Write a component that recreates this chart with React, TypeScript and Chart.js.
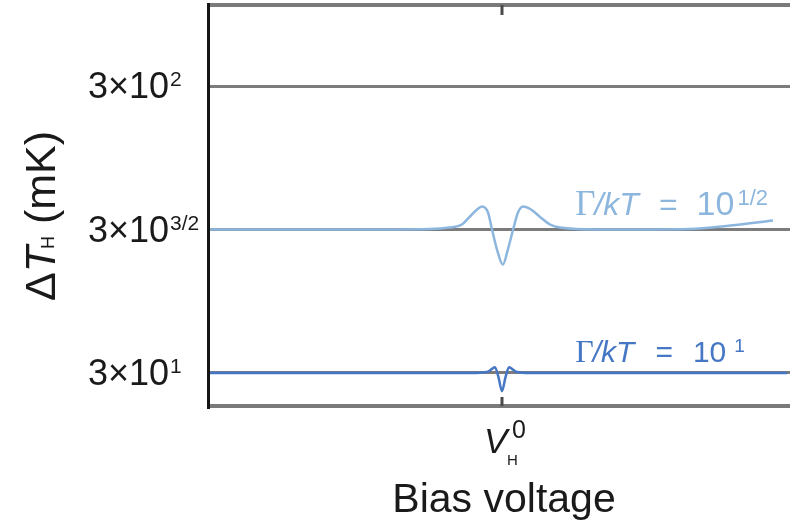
import React, { useEffect, useRef } from "react";
import { Chart, registerables } from "chart.js";

Chart.register(...registerables);

// Axis ranges
const xMin = -1;
const xMax = 0.983;
const yMin = 23.0;
const yMax = 576;

// Tick labels
const yTickValues = [30, 94.87, 300];
const yTickBase = ["3×10", "3×10", "3×10"];
const yTickExp = ["1", "3/2", "2"];
const xTickValues = [0];

// Γ/kT = 10^{1/2} (light blue)
const lightX = [-1.0, -0.52, -0.25, -0.18, -0.137, -0.113, -0.085, -0.068, -0.048, -0.034, -0.017, 0.003, 0.020, 0.038, 0.055, 0.072, 0.099, 0.13, 0.164, 0.198, 0.33, 0.64, 0.78, 0.925];
const lightY = [94.87, 94.87, 95.3, 96.4, 98.8, 104.5, 111.5, 114.2, 109, 94.9, 80.8, 71.6, 80.8, 94.9, 109, 114.2, 111.5, 105, 98.8, 96.4, 94.87, 95.3, 98.0, 102.0];

// Γ/kT = 10^1 (dark blue)
const darkX = [-1.0, -0.109, -0.048, -0.034, -0.024, -0.012, 0.0, 0.012, 0.024, 0.034, 0.048, 0.096, 0.973];
const darkY = [30, 30, 30.3, 31.0, 31.4, 29.0, 25.9, 29.0, 31.4, 31.0, 30.3, 30, 30];

const lightColor = "#8db6de";
const darkColor = "#4677c4";
const gridColor = "#7c7c7c";

type Run = { t: string; font: string; dx?: number; dy?: number };

function runsWidth(ctx: CanvasRenderingContext2D, runs: Run[]) {
  let w = 0;
  for (const r of runs) {
    ctx.font = r.font;
    w += (r.dx || 0) + ctx.measureText(r.t).width;
  }
  return w;
}

function drawRuns(ctx: CanvasRenderingContext2D, x: number, y: number, runs: Run[]) {
  let cx = x;
  for (const r of runs) {
    cx += r.dx || 0;
    ctx.font = r.font;
    ctx.fillText(r.t, cx, y + (r.dy || 0));
    cx += ctx.measureText(r.t).width;
  }
  return cx;
}

const SANS = '"Liberation Sans", Arial, sans-serif';
const SERIF = '"Liberation Serif", "Times New Roman", serif';

const overlayPlugin = {
  id: "overlay",
  afterDatasetsDraw(chart: any) {
    const ctx: CanvasRenderingContext2D = chart.ctx;
    const { left, right, top, bottom } = chart.chartArea;
    const xs = chart.scales.x;
    ctx.save();
    // top and bottom frame
    ctx.strokeStyle = "#7a7a7a";
    ctx.lineWidth = 4;
    ctx.beginPath();
    ctx.moveTo(left, top);
    ctx.lineTo(right, top);
    ctx.moveTo(left, bottom);
    ctx.lineTo(right, bottom);
    ctx.stroke();
    // x ticks
    ctx.strokeStyle = "#4a4a4a";
    ctx.lineWidth = 3;
    for (const v of xTickValues) {
      const px = xs.getPixelForValue(v);
      ctx.beginPath();
      ctx.moveTo(px, top);
      ctx.lineTo(px, top + 10);
      ctx.moveTo(px, bottom);
      ctx.lineTo(px, bottom - 9);
      ctx.stroke();
    }
    // left spine
    ctx.strokeStyle = "#151515";
    ctx.lineWidth = 3;
    ctx.beginPath();
    ctx.moveTo(left - 0.5, top - 2);
    ctx.lineTo(left - 0.5, bottom + 3);
    ctx.stroke();
    ctx.restore();
  },
  afterDraw(chart: any) {
    const ctx: CanvasRenderingContext2D = chart.ctx;
    const xs = chart.scales.x;
    const ys = chart.scales.y;
    ctx.save();
    ctx.textBaseline = "alphabetic";
    ctx.textAlign = "left";
    ctx.fillStyle = "#1a1a1a";

    // y tick labels
    yTickValues.forEach((v, i) => {
      const py = ys.getPixelForValue(v);
      drawRuns(ctx, 88, py + 12, [
        { t: yTickBase[i], font: `36px ${SANS}` },
        { t: yTickExp[i], font: `21px ${SANS}`, dx: 1, dy: -12 },
      ]);
    });

    // x tick label V_H^0
    xTickValues.forEach((v) => {
      const px = xs.getPixelForValue(v);
      ctx.font = `italic 35px ${SANS}`;
      ctx.fillText("V", px - 18, 453);
      ctx.font = `15px ${SANS}`;
      ctx.fillText("H", px + 5, 465);
      ctx.font = `25px ${SANS}`;
      ctx.fillText("0", px + 10, 438);
    });

    // x axis title
    ctx.textAlign = "center";
    ctx.font = `41px ${SANS}`;
    ctx.fillText("Bias voltage", 504, 512);
    ctx.textAlign = "left";

    // y axis title
    const yRuns: Run[] = [
      { t: "Δ", font: `43px ${SANS}` },
      { t: "T", font: `italic 43px ${SANS}` },
      { t: "H", font: `18px ${SANS}`, dx: -3, dy: -1 },
      { t: " (mK)", font: `43px ${SANS}` },
    ];
    ctx.save();
    ctx.translate(55, 216);
    ctx.rotate(-Math.PI / 2);
    const w = runsWidth(ctx, yRuns);
    drawRuns(ctx, -w / 2, 0, yRuns);
    ctx.restore();

    // curve labels
    const lx = xs.getPixelForValue(0.25);
    ctx.fillStyle = lightColor;
    drawRuns(ctx, lx, ys.getPixelForValue(94.87) - 15, [
      { t: "Γ", font: `35px ${SERIF}` },
      { t: "/kT", font: `italic 32px ${SANS}`, dx: -1 },
      { t: "=", font: `32px ${SANS}`, dx: 20 },
      { t: "10", font: `34px ${SANS}`, dx: 19 },
      { t: "1/2", font: `22px ${SANS}`, dx: 3, dy: -10 },
    ]);
    ctx.fillStyle = darkColor;
    drawRuns(ctx, lx, ys.getPixelForValue(30) - 11, [
      { t: "Γ", font: `32px ${SERIF}` },
      { t: "/kT", font: `italic 30px ${SANS}`, dx: -1 },
      { t: "=", font: `30px ${SANS}`, dx: 21 },
      { t: "10", font: `30px ${SANS}`, dx: 20 },
      { t: "1", font: `19px ${SANS}`, dx: 8, dy: -10 },
    ]);
    ctx.restore();
  },
};

export default function App() {
  const ref = useRef<HTMLCanvasElement | null>(null);
  useEffect(() => {
    document.body.style.margin = "0";
    const canvas = ref.current;
    if (!canvas) return;
    const chart = new Chart(canvas, {
      type: "line",
      data: {
        datasets: [
          {
            label: "Γ/kT = 10^1/2",
            data: lightX.map((x, i) => ({ x, y: lightY[i] })),
            borderColor: lightColor,
            borderWidth: 2.5,
            pointRadius: 0,
            cubicInterpolationMode: "monotone",
            fill: false,
          },
          {
            label: "Γ/kT = 10^1",
            data: darkX.map((x, i) => ({ x, y: darkY[i] })),
            borderColor: darkColor,
            borderWidth: 2.5,
            pointRadius: 0,
            cubicInterpolationMode: "monotone",
            fill: false,
          },
        ],
      },
      options: {
        animation: false,
        responsive: false,
        devicePixelRatio: 1,
        layout: { padding: { top: 5, right: 0, bottom: 0, left: 0 } },
        plugins: {
          legend: { display: false },
          tooltip: { enabled: false },
        },
        scales: {
          x: {
            type: "linear",
            min: xMin,
            max: xMax,
            ticks: { display: false },
            grid: { display: false, drawTicks: false },
            border: { display: false },
            afterFit: (s: any) => {
              s.height = 122;
            },
          },
          y: {
            type: "logarithmic",
            min: yMin,
            max: yMax,
            ticks: { display: false },
            afterBuildTicks: (s: any) => {
              s.ticks = yTickValues.map((v) => ({ value: v }));
            },
            grid: { color: gridColor, lineWidth: 3, drawTicks: false },
            border: { display: false },
            afterFit: (s: any) => {
              s.width = 209;
            },
          },
        },
      },
      plugins: [overlayPlugin],
    } as any);
    return () => chart.destroy();
  }, []);
  return (
    <div style={{ width: 790, height: 528 }}>
      <canvas ref={ref} width={790} height={528} style={{ display: "block" }} />
    </div>
  );
}
